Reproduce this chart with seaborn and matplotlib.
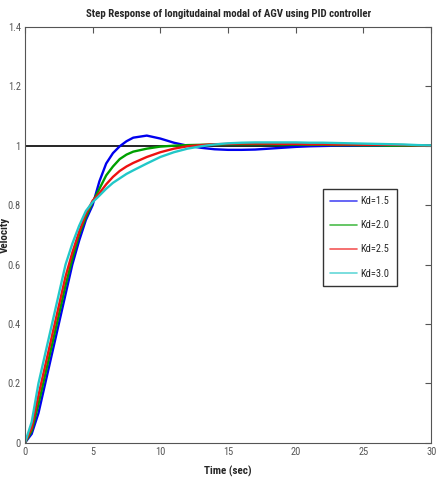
import matplotlib
matplotlib.use("Agg")
import matplotlib.pyplot as plt
import seaborn as sns
import pandas as pd

# time axis (sec) and step responses
time_s = [0, 0.5, 1, 1.5, 2, 2.5, 3, 3.5, 4, 4.5, 5, 5.5, 6, 6.5, 7, 7.5, 8, 9, 10,
          11, 12, 13, 14, 15, 16, 17, 18, 19, 20, 21, 22, 23, 24, 25, 26, 27, 28, 29, 30]
kd_15 = [0, 0.03, 0.1, 0.2, 0.3, 0.4, 0.5, 0.6, 0.68, 0.75, 0.8, 0.88, 0.94, 0.975, 0.998,
         1.015, 1.027, 1.034, 1.024, 1.01, 1.0, 0.993, 0.988, 0.986, 0.986, 0.987, 0.99,
         0.993, 0.996, 0.998, 0.999, 1.0, 1.0, 1.0, 1.0, 1.0, 1.0, 1.0, 1.0]
kd_20 = [0, 0.04, 0.13, 0.23, 0.33, 0.43, 0.53, 0.62, 0.7, 0.76, 0.81, 0.855, 0.9, 0.93,
         0.955, 0.97, 0.98, 0.99, 0.997, 1.0, 1.002, 1.003, 1.004, 1.005, 1.005, 1.005,
         1.005, 1.004, 1.004, 1.003, 1.003, 1.002, 1.002, 1.001, 1.001, 1.0, 1.0, 1.0, 1.0]
kd_25 = [0, 0.05, 0.16, 0.26, 0.36, 0.46, 0.56, 0.64, 0.71, 0.77, 0.815, 0.84, 0.87, 0.895,
         0.915, 0.93, 0.942, 0.962, 0.978, 0.99, 0.998, 1.002, 1.005, 1.006, 1.007, 1.007,
         1.007, 1.006, 1.006, 1.005, 1.005, 1.004, 1.004, 1.003, 1.003, 1.003, 1.002, 1.001, 1.0]
kd_30 = [0, 0.07, 0.2, 0.3, 0.4, 0.5, 0.6, 0.67, 0.73, 0.78, 0.81, 0.832, 0.855, 0.875,
         0.89, 0.905, 0.917, 0.94, 0.962, 0.978, 0.99, 0.998, 1.004, 1.008, 1.01, 1.011,
         1.011, 1.011, 1.011, 1.01, 1.01, 1.009, 1.008, 1.007, 1.006, 1.005, 1.004, 1.002, 1.001]
labels = ["Kd=1.5", "Kd=2.0", "Kd=2.5", "Kd=3.0"]
colors = ["#0000ee", "#00a000", "#ee1111", "#22c8c8"]

frames = []
for lab, vals in zip(labels, [kd_15, kd_20, kd_25, kd_30]):
    frames.append(pd.DataFrame({"t": time_s, "v": vals, "Kd": lab}))
df = pd.concat(frames)

sns.set_style("white")
plt.rcParams['font.family'] = ['Roboto Condensed', 'DejaVu Sans']

fig = plt.figure(figsize=(4.45, 4.97), dpi=100)
ax = fig.add_axes([0.056, 0.109, 0.913, 0.837])

ax.axhline(1.0, color="black", linewidth=1.2, zorder=1)
sns.lineplot(data=df, x="t", y="v", hue="Kd", palette=colors, linewidth=1.7, ax=ax, zorder=2)

ax.set_xlim(0, 30)
ax.set_ylim(0, 1.4)
ax.set_xticks([0, 5, 10, 15, 20, 25, 30])
ax.set_yticks([0, 0.2, 0.4, 0.6, 0.8, 1, 1.2, 1.4])
ax.set_yticklabels(["0", "0.2", "0.4", "0.6", "0.8", "1", "1.2", "1.4"])
ax.tick_params(direction="in", length=4, top=True, right=True, labelsize=7.5,
               colors="#555555", width=0.8, pad=3)
for s in ax.spines.values():
    s.set_color("#555555")
    s.set_linewidth(0.8)

ax.set_xlabel("Time (sec)", fontsize=8, fontweight="bold", labelpad=6)
ax.set_ylabel("Velocity", fontsize=8, fontweight="bold")
ax.yaxis.set_label_coords(-0.037, 0.5)
ax.set_title("Step Response of longitudainal modal of AGV using PID controller",
             fontsize=7.8, fontweight="bold", pad=7)

leg = ax.legend(loc="upper left", bbox_to_anchor=(0.733, 0.61), fontsize=7.5,
                frameon=True, fancybox=False, handlelength=2.6, labelspacing=1.35,
                borderpad=0.7, handletextpad=0.35, borderaxespad=0)
leg.get_frame().set_edgecolor("black")
leg.get_frame().set_linewidth(1.0)
for line in leg.get_lines():
    line.set_linewidth(1.2)
    line.set_alpha(0.7)

plt.savefig("out.png", dpi=100)
